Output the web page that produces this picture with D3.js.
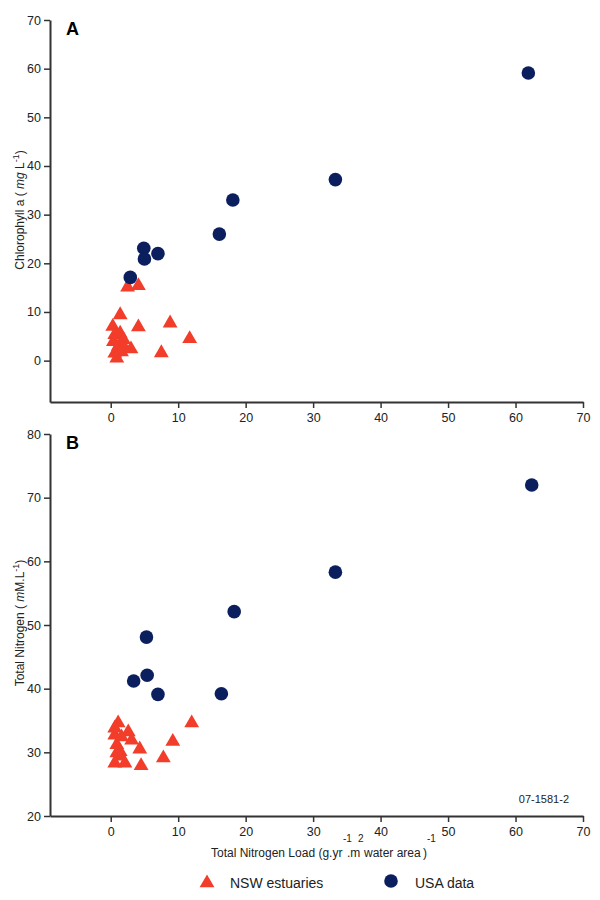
<!DOCTYPE html>
<html>
<head>
<meta charset="utf-8">
<script src="https://cdn.jsdelivr.net/npm/d3@7"></script>
<style>
  body { margin: 0; background: #fff; }
  svg { font-family: "Liberation Sans", Arial, sans-serif; }
</style>
</head>
<body>
<div class="chart"></div>
<script>
// NSW estuaries, panel A: [N load, chlorophyll a]
let nswChl = [
  [2.5, 15.1], [4.1, 15.4], [1.4, 9.4], [4.1, 6.9], [8.8, 7.7], [11.7, 4.5],
  [7.5, 1.6], [3.0, 2.4], [0.3, 7.0], [0.6, 5.3], [1.4, 5.6], [1.9, 4.3],
  [0.4, 3.9], [1.1, 2.9], [1.9, 3.0], [0.6, 1.5], [1.6, 1.8], [0.9, 0.5]
];
// USA data, panel A
let usaChl = [
  [61.9, 59.1], [33.3, 37.2], [18.1, 33.0], [16.1, 26.0], [4.9, 23.1],
  [5.0, 20.9], [7.0, 22.0], [2.9, 17.1]
];
// NSW estuaries, panel B: [N load, total nitrogen]
let nswTN = [
  [1.1, 34.6], [2.6, 33.2], [12.0, 34.6], [0.6, 32.7], [3.1, 31.9], [9.2, 31.7],
  [0.9, 31.2], [4.3, 30.5], [1.4, 30.1], [7.8, 29.1], [1.4, 29.4], [0.6, 28.3],
  [2.1, 28.3], [4.5, 27.9], [0.6, 33.8], [1.6, 32.4], [0.9, 29.9]
];
// USA data, panel B
let usaTN = [
  [62.4, 72.0], [33.3, 58.3], [18.3, 52.1], [5.3, 48.1], [5.4, 42.1],
  [3.4, 41.2], [7.0, 39.1], [16.4, 39.2]
];

let xTicks = [0, 10, 20, 30, 40, 50, 60, 70];
let yTicksA = [0, 10, 20, 30, 40, 50, 60, 70];
let yTicksB = [20, 30, 40, 50, 60, 70, 80];

let red = '#f23d2a';
let navy = '#0b1f5e';
let axisColor = '#333';

let svg = d3.select('.chart').append('svg')
  .attr('width', 600)
  .attr('height', 900);

let x = d3.scaleLinear().domain([-9, 70]).range([50, 583]);

function panel(yDomain, yRange, yTicks, nsw, usa, letter) {
  let y = d3.scaleLinear().domain(yDomain).range(yRange);
  let g = svg.append('g');

  let yAxis = g.append('g')
    .attr('transform', 'translate(50,0)')
    .call(d3.axisLeft(y).tickValues(yTicks).tickSize(6).tickPadding(3).tickSizeOuter(0));
  let xAxis = g.append('g')
    .attr('transform', 'translate(0,' + yRange[0] + ')')
    .call(d3.axisBottom(x).tickValues(xTicks).tickSize(6).tickPadding(5).tickSizeOuter(0));

  [yAxis, xAxis].forEach(a => {
    a.select('.domain').attr('stroke', axisColor).attr('stroke-width', 2);
    a.selectAll('.tick line').attr('stroke', axisColor).attr('stroke-width', 1.5);
    a.selectAll('.tick text').attr('font-size', 12.5).attr('fill', '#222')
      .attr('font-family', '"Liberation Sans", Arial, sans-serif');
  });

  g.append('text')
    .attr('x', 66).attr('y', yRange[1] + 15)
    .attr('font-size', 18).attr('font-weight', 'bold')
    .text(letter);

  g.selectAll('path.tri')
    .data(nsw)
    .enter().append('path')
    .attr('class', 'tri')
    .attr('d', d3.symbol(d3.symbolTriangle, 95))
    .attr('transform', d => 'translate(' + x(d[0]) + ',' + y(d[1]) + ')')
    .attr('fill', red);

  g.selectAll('circle.usa')
    .data(usa)
    .enter().append('circle')
    .attr('class', 'usa')
    .attr('cx', d => x(d[0]))
    .attr('cy', d => y(d[1]))
    .attr('r', 6.8)
    .attr('fill', navy);

  return y;
}

panel([-8.5, 70], [402, 20], yTicksA, nswChl, usaChl, 'A');
panel([20, 80], [816, 434], yTicksB, nswTN, usaTN, 'B');

// y axis titles
let titleA = svg.append('text')
  .attr('transform', 'translate(24,210) rotate(-90)')
  .attr('text-anchor', 'middle')
  .attr('font-size', 12).attr('fill', '#222');
titleA.append('tspan').text('Chlorophyll a ( ');
titleA.append('tspan').attr('font-style', 'italic').text('mg');
titleA.append('tspan').text(' L');
titleA.append('tspan').attr('dy', -5).attr('font-size', 9).text('-1');
titleA.append('tspan').attr('dy', 5).text(')');

let titleB = svg.append('text')
  .attr('transform', 'translate(24,623) rotate(-90)')
  .attr('text-anchor', 'middle')
  .attr('font-size', 12).attr('fill', '#222');
titleB.append('tspan').text('Total Nitrogen ( ');
titleB.append('tspan').attr('font-style', 'italic').text('m');
titleB.append('tspan').text('M.L');
titleB.append('tspan').attr('dy', -5).attr('font-size', 9).text('-1');
titleB.append('tspan').attr('dy', 5).text(')');

// x axis title with detached superscripts
let xt = svg.append('g').attr('font-size', 12).attr('fill', '#222');
xt.append('text').attr('x', 211).attr('y', 857).text('Total Nitrogen Load (g.yr');
xt.append('text').attr('x', 343).attr('y', 842).attr('font-size', 10).text('-1');
xt.append('text').attr('x', 347).attr('y', 857).text('.m');
xt.append('text').attr('x', 358).attr('y', 842).attr('font-size', 10).text('2');
xt.append('text').attr('x', 364).attr('y', 857).text('water area');
xt.append('text').attr('x', 423).attr('y', 857).text(')');
xt.append('text').attr('x', 427).attr('y', 842).attr('font-size', 10).text('-1');

// figure code
svg.append('text')
  .attr('x', 569).attr('y', 803)
  .attr('text-anchor', 'end')
  .attr('font-size', 11).attr('fill', '#222')
  .text('07-1581-2');

// legend
let legend = svg.append('g');
legend.append('path')
  .attr('d', d3.symbol(d3.symbolTriangle, 95))
  .attr('transform', 'translate(207,883)')
  .attr('fill', red);
legend.append('text')
  .attr('x', 230).attr('y', 888)
  .attr('font-size', 14).attr('fill', '#222')
  .text('NSW estuaries');
legend.append('circle')
  .attr('cx', 391).attr('cy', 881).attr('r', 6.8)
  .attr('fill', navy);
legend.append('text')
  .attr('x', 415).attr('y', 888)
  .attr('font-size', 14).attr('fill', '#222')
  .text('USA data');
</script>
</body>
</html>
